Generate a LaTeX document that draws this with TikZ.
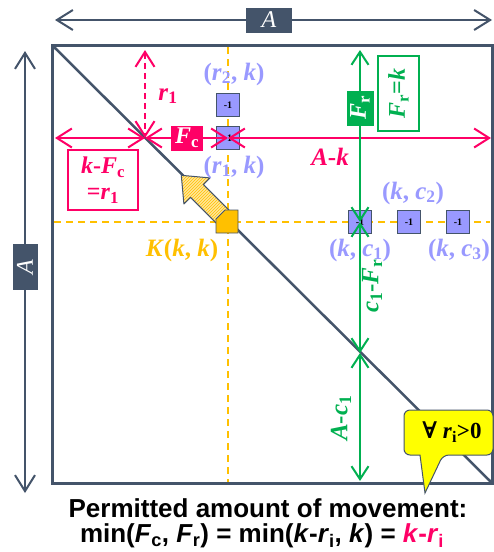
\documentclass[tikz,border=0pt]{standalone}
\usepackage{fontspec}
\setmainfont{Liberation Serif}
\newfontfamily\arialf{Liberation Sans}
\newfontfamily\djvs{DejaVu Serif}
\usetikzlibrary{arrows.meta,patterns}
\definecolor{slate}{HTML}{44546A}
\definecolor{pinkc}{HTML}{FF0066}
\definecolor{greenc}{HTML}{00B050}
\definecolor{orangec}{HTML}{FFC000}
\definecolor{lightor}{HTML}{FFE699}
\definecolor{bluel}{HTML}{9999FF}
\definecolor{calloutc}{HTML}{FFFF00}
\begin{document}
\begin{tikzpicture}[x=1pt,y=-1pt,
  dimarr/.style={draw=slate, line width=2pt, {Straight Barb[length=16pt,width=20pt]}-{Straight Barb[length=16pt,width=20pt]}},
  pkarr/.style={draw=pinkc, line width=2pt, {Straight Barb[length=15pt,width=19pt]}-{Straight Barb[length=15pt,width=19pt]}},
  grarr/.style={draw=greenc, line width=2pt, {Straight Barb[length=13pt,width=17pt]}-{Straight Barb[length=13pt,width=17pt]}},
  sqbox/.style={draw=slate, line width=0.8pt, fill=bluel, minimum size=23pt, inner sep=0pt, font=\fontsize{10}{10}\selectfont\bfseries, text=black},
  lbl/.style={inner sep=0pt, font=\fontsize{25}{25}\selectfont\bfseries},
  orgdash/.style={draw=orangec, line width=1.5pt, dash pattern=on 7pt off 5pt},
]
\useasboundingbox (0,0) rectangle (494,552);
\fill[white] (0,0) rectangle (494,552);

% frame and guide lines
\draw[slate, line width=3pt] (52,45) rectangle (492,483);
\coordinate (vt) at (228,47);
\coordinate (vb) at (228,482);
\coordinate (hl) at (54,222);
\coordinate (hr) at (490,222);
\draw[orgdash] (vt) -- (vb);
\draw[orgdash] (hl) -- (hr);
\coordinate (TL) at (52,45);
\coordinate (BR) at (492,483);
\draw[slate, line width=2.5pt] (TL) -- (BR);

% dimension arrows A
\coordinate (ta1) at (55,20);
\coordinate (ta2) at (492,20);
\draw[dimarr] (ta1) -- (ta2);
\node[fill=slate, text=white, minimum width=46pt, minimum height=25pt, inner sep=0pt, font=\fontsize{24}{24}\selectfont\itshape] (topA) at (269,20) {A};
\coordinate (la1) at (25,51);
\coordinate (la2) at (25,493);
\draw[dimarr] (la1) -- (la2);
\node[fill=slate, minimum width=25pt, minimum height=46pt, inner sep=0pt] (leftA) at (25,267) {};
\node[text=white, inner sep=0pt, rotate=90, font=\fontsize{24}{24}\selectfont\itshape] (leftAt) at (leftA.center) {A};

% blue squares
\node[sqbox] (s2) at (228,105) {-1};
\node[sqbox] (s1) at (228,138) {-1};
\node[sqbox] (c1) at (360,222) {-1};
\node[sqbox] (c2) at (409,222) {-1};
\node[sqbox] (c3) at (458,222) {-1};

% hatched arrow
\path[fill=lightor] (217.4,224.2) -- (190.5,197.3) -- (183.9,203.9) -- (181.3,175.3) -- (209.9,177.9) -- (203.3,184.5) -- (230.2,211.4) -- cycle;
\path[pattern=north east lines, pattern color=orangec] (217.4,224.2) -- (190.5,197.3) -- (183.9,203.9) -- (181.3,175.3) -- (209.9,177.9) -- (203.3,184.5) -- (230.2,211.4) -- cycle;
\draw[slate, line width=1pt, line join=round] (217.4,224.2) -- (190.5,197.3) -- (183.9,203.9) -- (181.3,175.3) -- (209.9,177.9) -- (203.3,184.5) -- (230.2,211.4);

% K point
\draw[fill=orangec, draw=slate, line width=0.8pt] (216,233) -- (238,233) -- (238,210) -- (225,210) -- (216,219) -- cycle;

% pink arrows
\coordinate (p0) at (55,138);
\coordinate (r1) at (145,138);
\coordinate (kc) at (228,138);
\coordinate (pr) at (491,138);
\coordinate (r1t) at (145,50);
\draw[pkarr] (p0) -- (r1);
\draw[pkarr] (r1) -- (kc);
\draw[pkarr] (kc) -- (pr);
\draw[pkarr, dash pattern=on 6pt off 4pt] (r1t) -- (r1);
\node[fill=pinkc, text=white, minimum width=32pt, minimum height=25pt, inner sep=0pt, font=\fontsize{24}{24}\selectfont\bfseries] (fc) at (187,138) {\textit{F}\textsubscript{c}};
\node[lbl, text=pinkc] (r1lab) at (168,96) {\textit{r}\textsubscript{1}};
\node[draw=pinkc, line width=1.2pt, minimum width=70pt, minimum height=60pt, inner sep=0pt, align=center, text=pinkc, font=\fontsize{24}{26}\selectfont\bfseries] (kfc) at (103,180) {\textit{k}-\textit{F}\textsubscript{c}\\=\textit{r}\textsubscript{1}};
\node[lbl, text=pinkc] (ak) at (330,157) {\textit{A}-\textit{k}};

% green arrows
\coordinate (gt) at (360,50);
\coordinate (gk) at (360,222);
\coordinate (gd) at (360,353);
\coordinate (gb) at (360,481);
\draw[grarr] (gt) -- (gk);
\draw[grarr] (gk) -- (gd);
\draw[grarr] (gd) -- (gb);
\node[fill=greenc, minimum width=27pt, minimum height=35pt, inner sep=0pt] (fr) at (360,108) {};
\node[text=white, inner sep=0pt, rotate=90, font=\fontsize{24}{24}\selectfont\bfseries] (frt) at (fr.center) {\textit{F}\textsubscript{r}};
\node[draw=greenc, line width=1.2pt, minimum width=41pt, minimum height=75pt, inner sep=0pt] (frk) at (398.5,93.5) {};
\node[text=greenc, inner sep=0pt, rotate=90, font=\fontsize{24}{24}\selectfont\bfseries] (frkt) at (frk.center) {\textit{F}\textsubscript{r}=\textit{k}};
\node[lbl, text=greenc, rotate=90] (c1fr) at (372,286) {\textit{c}\textsubscript{1}-\textit{F}\textsubscript{r}};
\node[lbl, text=greenc, rotate=90] (ac1) at (341,418) {\textit{A}-\textit{c}\textsubscript{1}};

% coordinate labels
\node[lbl, text=bluel] (l2) at (234,74) {(\textit{r}\textsubscript{2}, \textit{k})};
\node[lbl, text=bluel] (l1) at (234,167) {(\textit{r}\textsubscript{1}, \textit{k})};
\node[lbl, text=bluel] (lc2) at (413,193) {(\textit{k}, \textit{c}\textsubscript{2})};
\node[lbl, text=bluel] (lc1) at (360,250) {(\textit{k}, \textit{c}\textsubscript{1})};
\node[lbl, text=bluel] (lc3) at (459,250) {(\textit{k}, \textit{c}\textsubscript{3})};
\node[lbl, text=orangec] (klab) at (182,250) {\textit{K}(\textit{k}, \textit{k})};

% callout
\draw[fill=calloutc, draw=slate, line width=1pt, rounded corners=6pt] (404,410) -- (493,410) -- (493,455) -- (443,455) [sharp corners] -- (425,493) -- (420,455) [rounded corners=6pt] -- (404,455) -- cycle;
\node[inner sep=0pt, font=\fontsize{23}{23}\selectfont\bfseries] (forall) at (452,432) {{\djvs ∀} \textit{r}\textsubscript{i}>0};

% caption
\node[inner sep=0pt, font=\arialf\fontsize{26}{26}\selectfont\bfseries] (cap1) at (268,508) {Permitted amount of movement:};
\node[inner sep=0pt, font=\arialf\fontsize{26}{26}\selectfont\bfseries] (cap2) at (262,536) {min(\textit{F}\textsubscript{c}, \textit{F}\textsubscript{r}) = min(\textit{k}-\textit{r}\textsubscript{i}, \textit{k}) = \textcolor{pinkc}{\textit{k}-\textit{r}\textsubscript{i}}};
\end{tikzpicture}
\end{document}
